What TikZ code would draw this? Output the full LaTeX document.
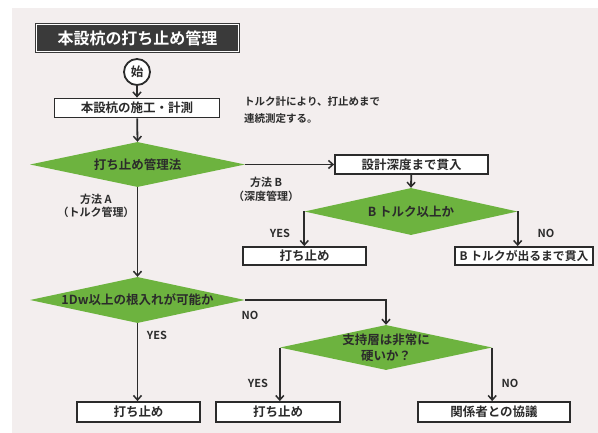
\documentclass[tikz,border=0pt]{standalone}
\usepackage{fontspec}
\setmainfont{Noto Sans CJK JP}[BoldFont={Noto Sans CJK JP Bold}]
\usetikzlibrary{shapes.geometric,arrows.meta,calc}
\definecolor{bgc}{HTML}{F3EEEE}
\definecolor{ink}{HTML}{2B2B2B}
\definecolor{grn}{HTML}{6DB33F}
\definecolor{ttl}{HTML}{3A3A3A}
\tikzset{
  box/.style={draw=ink, line width=1.8pt, fill=white, inner sep=0pt, minimum height=19pt,
    font=\fontsize{12.5}{14}\selectfont\bfseries, text=ink},
  dia/.style={shape=diamond, fill=grn, draw=none, inner sep=0pt},
  dtext/.style={font=\fontsize{12.5}{15}\selectfont\bfseries, text=ink, align=center, inner sep=0pt},
  lbl/.style={font=\fontsize{11}{13}\selectfont\bfseries, text=ink, align=center, inner sep=0pt},
  conn/.style={draw=ink, line width=1.8pt, -{Straight Barb[length=4.5pt,width=8pt,line width=1.5pt]}},
  line/.style={draw=ink, line width=1.8pt}
}
\begin{document}
\begin{tikzpicture}[x=1pt,y=-1pt]
\useasboundingbox (0,0) rectangle (598,433);
\fill[white] (0,0) rectangle (598,433);
\fill[bgc] (12,8) rectangle (598,433);

% title
\node[draw=ttl, fill=ttl, double=white, double distance=1.3pt, line width=1.3pt,
  minimum width=202pt, minimum height=27pt, inner sep=0pt, text=white,
  font=\fontsize{16}{18}\selectfont\bfseries] (title) at (137.5,38) {本設杭の打ち止め管理};

% start
\node[circle, draw=ink, line width=1.8pt, fill=white, minimum size=26pt, inner sep=0pt,
  font=\fontsize{12.5}{14}\selectfont\bfseries, text=ink] (start) at (137,72) {始};

\node[box, minimum width=165pt] (b1) at (137,108) {本設杭の施工・計測};

\node[font=\fontsize{10.5}{17}\selectfont\bfseries, text=ink, align=left, anchor=west, inner sep=0pt]
  (note) at (244,110) {トルク計により、打止めまで\\連続測定する。};

\node[dia, minimum width=215pt, minimum height=45pt] (d1) at (137.5,164.5) {};
\node[dtext] (d1t) at (d1) {打ち止め管理法};

\node[box, minimum width=153pt] (b2) at (411.5,164.5) {設計深度まで貫入};

\node[dia, minimum width=213pt, minimum height=47pt] (d2) at (411,211.5) {};
\node[dtext] (d2t) at (d2) {B トルク以上か};

\node[box, minimum width=123pt, minimum height=18pt] (b3) at (304.5,256) {打ち止め};
\node[box, minimum width=138pt, minimum height=18pt, font=\fontsize{11.8}{14}\selectfont\bfseries] (b4) at (524,256) {B トルクが出るまで貫入};

\node[dia, minimum width=215pt, minimum height=46pt] (d4) at (137.5,300) {};
\node[dtext] (d4t) at (d4) {1Dw以上の根入れが可能か};

\node[dia, minimum width=212pt, minimum height=45pt] (d3) at (386,347.5) {};
\node[dtext, font=\fontsize{12.5}{16}\selectfont\bfseries] (d3t) at (d3) {支持層は非常に\\硬いか？};

\node[box, minimum width=123pt, minimum height=20pt] (b5) at (138.5,412) {打ち止め};
\node[box, minimum width=124pt, minimum height=20pt] (b6) at (278,412) {打ち止め};
\node[box, minimum width=152pt, minimum height=20pt] (b7) at (494,412) {関係者との協議};

% labels
\node[lbl] (la) at (96,206) {方法 A\\（トルク管理）};
\node[lbl, font=\fontsize{11}{14}\selectfont\bfseries] (lb) at (266,189) {方法 B\\（深度管理）};
\node[lbl] (y1) at (280,233) {YES};
\node[lbl] (n1) at (546,233) {NO};
\node[lbl] (n2) at (250,315) {NO};
\node[lbl] (y2) at (157,335) {YES};
\node[lbl] (y3) at (258,383) {YES};
\node[lbl] (n3) at (510,383) {NO};

% connectors
\draw[conn] (start) -- (b1);
\draw[conn] (b1) -- (d1.north);
\draw[conn] (d1.east) -- (b2.west);
\draw[conn] (b2) -- (d2.north);
\draw[conn] (d2.west) -- (d2.west |- b3.north);
\draw[conn] (d2.east) -- (d2.east |- b4.north);
\draw[conn] (d1.south) -- (d4.north);
\draw[conn] (d4.south) -- (d4.south |- b5.north);
\draw[conn] (d4.east) -| (d3.north);
\draw[conn] (d3.west) -- (d3.west |- b6.north);
\draw[conn] (d3.east) -- (d3.east |- b7.north);
\end{tikzpicture}
\end{document}
